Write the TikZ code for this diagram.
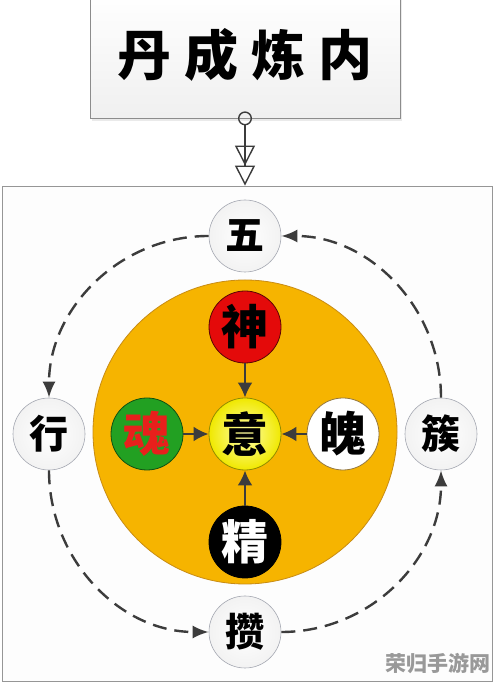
\documentclass[tikz,border=0pt]{standalone}
\usepackage{fontspec}
\newfontfamily\cjk{Noto Sans CJK SC}
\usetikzlibrary{arrows.meta,shadows}
\definecolor{arrowgray}{RGB}{60,60,60}
\definecolor{pangold}{RGB}{246,180,0}
\definecolor{panedge}{RGB}{200,140,20}
\definecolor{shenred}{RGB}{228,10,10}
\definecolor{hungreen}{RGB}{34,160,34}
\definecolor{hunred}{RGB}{232,32,28}
\definecolor{yilight}{RGB}{255,255,170}
\definecolor{yidark}{RGB}{240,232,0}
\definecolor{nodeedge}{RGB}{165,168,178}
\definecolor{boxedge}{RGB}{140,140,140}
\definecolor{frameedge}{RGB}{150,150,150}
\begin{document}
\begin{tikzpicture}[x=1pt,y=1pt,
  outernode/.style={circle, minimum size=72pt, inner sep=0pt, draw=nodeedge, line width=0.6pt,
    inner color=white, outer color=black!5, text=black,
    font=\cjk\bfseries\fontsize{39}{39}\selectfont},
  innernode/.style={circle, minimum size=72pt, inner sep=0pt, line width=0.8pt,
    font=\cjk\bfseries\fontsize{47}{47}\selectfont},
  cyc/.style={draw=arrowgray, line width=2.4pt, dash pattern=on 14pt off 8pt,
    -{Latex[length=16pt,width=13pt]}},
  inarr/.style={draw=arrowgray, line width=2.6pt, -{Latex[length=15pt,width=15pt]}},
  conn/.style={draw=arrowgray, line width=1.4pt,
    {Circle[open,length=14pt,width=14pt]}-{Triangle[open,length=20pt,width=20pt,sep=0pt]Triangle[open,length=20pt,width=20pt]}}
]
\useasboundingbox (0,0) rectangle (494,684);
\fill[white] (0,0) rectangle (494,684);

% frame
\node[draw=frameedge, line width=0.9pt, fill={rgb,255:red,253;green,253;blue,253},
      minimum width=490pt, minimum height=495pt, inner sep=0pt] (frame) at (247,250.5) {};

% title box
\node[draw=boxedge, line width=0.8pt, top color=white, bottom color=black!6,
      minimum width=310pt, minimum height=126pt, inner sep=0pt,
      drop shadow={shadow xshift=2pt, shadow yshift=-3pt, opacity=0.2, fill=black!40},
      font=\cjk\bfseries\fontsize{54}{54}\selectfont] (title) at (245,629)
      {\raisebox{4pt}{丹\hspace{13pt}成\hspace{13pt}炼\hspace{13pt}内}};

\draw[conn] ([yshift=7pt]title.south) -- (title.south |- frame.north);

% central disc
\node[circle, minimum size=304pt, inner sep=0pt, fill=pangold, draw=panedge, line width=0.8pt] (pan) at (245,252) {};

% inner nodes
\node[innernode, fill=shenred, draw=black!60!shenred, text=black] (shen) at (245,357) {神};
\node[innernode, inner color=yilight, outer color=yidark, draw=black!40!yidark, text=black] (yi) at (245,250) {意};
\node[innernode, fill=black, draw=black, text=white] (jing) at (245,142) {精};
\node[innernode, fill=hungreen, draw=black!50!hungreen, text=hunred] (hun) at (147,250) {魂};
\node[innernode, fill=white, draw={rgb,255:red,150;green,120;blue,60}, text=black] (po) at (343,250) {魄};

\draw[inarr] (shen) -- (yi);
\draw[inarr] (jing) -- (yi);
\draw[inarr] (hun) -- (yi);
\draw[inarr] (po) -- (yi);

% outer cycle
\node[outernode] (wu) at (245,448) {五};
\node[outernode] (xing) at (49,250) {行};
\node[outernode] (zan) at (245,52) {攒};
\node[outernode] (cu) at (441,250) {簇};

\draw[cyc] (cu) to[out=90,in=0] (wu);
\draw[cyc] (wu) to[out=180,in=90] (xing);
\draw[cyc] (xing) to[out=270,in=180] (zan);
\draw[cyc] (zan) to[out=0,in=270] (cu);

% watermark
\node[font=\cjk\bfseries\fontsize{21}{21}\selectfont, text=black!40, inner sep=0pt] (wm) at (438,20) {荣归手游网};
\end{tikzpicture}
\end{document}
